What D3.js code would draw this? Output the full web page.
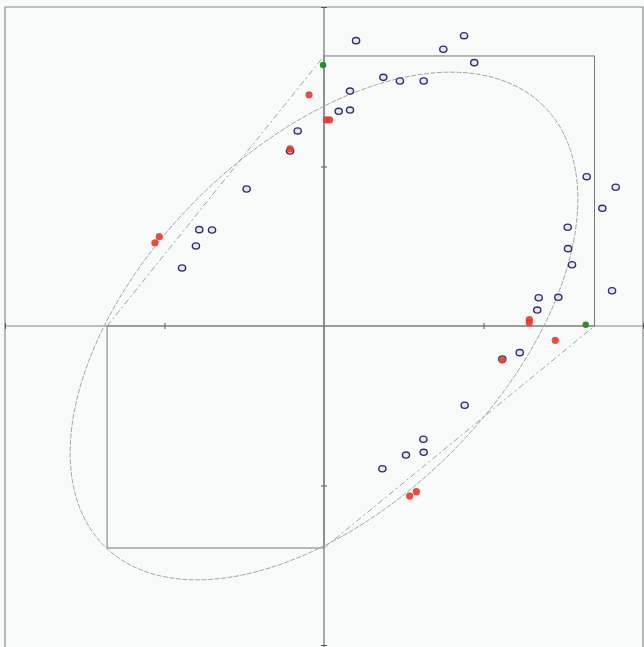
<!DOCTYPE html>
<html>
<head>
<meta charset="utf-8">
<script src="https://cdn.jsdelivr.net/npm/d3@7"></script>
<style>
  html, body { margin: 0; padding: 0; background: #f8faf9; }
  svg { display: block; }
</style>
</head>
<body>
<script>
const width = 644, height = 647;

// open (blue) points, x / y in axis units
const blueX = [0.201, 0.878, 0.748, 0.942, 0.372, 0.476, 0.625, 0.163, 0.092, 0.163,
  -0.165, -0.213, -0.485, -0.782, -0.702, -0.803, -0.890,
  1.647, 1.829, 1.745, 1.528, 1.530, 1.555, 1.806, 1.346, 1.469, 1.337,
  1.227, 1.118, 0.882, 0.623, 0.514, 0.625, 0.366];
const blueY = [1.789, 1.820, 1.735, 1.651, 1.559, 1.536, 1.536, 1.473, 1.346, 1.354,
  1.223, 1.097, 0.859, 0.604, 0.602, 0.502, 0.364,
  0.936, 0.870, 0.738, 0.619, 0.485, 0.384, 0.221, 0.177, 0.180, 0.100,
  -0.167, -0.207, -0.497, -0.710, -0.809, -0.792, -0.895];

// filled red points
const redX = [-0.094, 0.015, 0.035, -0.213, -1.033, -1.060, 1.287, 1.287, 1.450, 1.118, 0.579, 0.537];
const redY = [1.450, 1.292, 1.292, 1.110, 0.560, 0.522, 0.040, 0.020, -0.090, -0.213, -1.039, -1.066];

// filled green points
const greenX = [-0.006, 1.641];
const greenY = [1.636, 0.008];

// boxes (corner values) and the ellipse x^2 - xy + y^2 = k
const upperBox = [0, 0, 1.696, 1.693];
const lowerBox = [-1.36, -1.392, 0, 0];
const ellipseK = 1.9;
const tickVals = [-2, -1, 1, 2];

const x = d3.scaleLinear().domain([-2, 2]).range([5, 643]);
const y = d3.scaleLinear().domain([-2, 2]).range([645, 7]);

const svg = d3.select("body").append("svg")
    .attr("width", width)
    .attr("height", height);

// frame (bottom edge falls outside the scan)
svg.append("path")
    .attr("d", d3.line()([[x(-2), height], [x(-2), y(2)], [x(2), y(2)], [x(2), height]]))
    .attr("fill", "none")
    .attr("stroke", "#8a8c8c")
    .attr("stroke-width", 1.2);

// axes through the origin
svg.append("line")
    .attr("x1", x(-2)).attr("x2", width)
    .attr("y1", y(0)).attr("y2", y(0))
    .attr("stroke", "#858788").attr("stroke-width", 1);
svg.append("line")
    .attr("x1", x(0)).attr("x2", x(0))
    .attr("y1", y(2)).attr("y2", height)
    .attr("stroke", "#6f7172").attr("stroke-width", 1.2);

const xAxis = d3.axisBottom(x).tickValues(tickVals).tickSize(6).tickSizeOuter(0).tickFormat("");
const yAxis = d3.axisLeft(y).tickValues(tickVals).tickSize(6).tickSizeOuter(0).tickFormat("");
svg.append("g")
    .attr("transform", "translate(0," + (y(0) - 3) + ")")
    .call(xAxis)
    .call(g => g.select(".domain").remove())
    .selectAll("line").attr("stroke", "#555");
svg.append("g")
    .attr("transform", "translate(" + (x(0) + 3) + ",0)")
    .call(yAxis)
    .call(g => g.select(".domain").remove())
    .selectAll("line").attr("stroke", "#555");

// boxes
[upperBox, lowerBox].forEach(b => {
    svg.append("rect")
        .attr("x", x(b[0]))
        .attr("y", y(b[3]))
        .attr("width", x(b[2]) - x(b[0]))
        .attr("height", y(b[1]) - y(b[3]))
        .attr("fill", "none")
        .attr("stroke", "#767878")
        .attr("stroke-width", 1);
});

// dashed chords between box corners
const chords = [
    [[lowerBox[0], 0], [0, upperBox[3]]],
    [[0, lowerBox[1]], [upperBox[2], 0]]
];
chords.forEach(c => {
    svg.append("path")
        .attr("d", d3.line().x(d => x(d[0])).y(d => y(d[1]))(c))
        .attr("fill", "none")
        .attr("stroke", "#a0a2a2")
        .attr("stroke-width", 1)
        .attr("stroke-dasharray", "6,3,2,3");
});

// ellipse: major axis along y = x
const a = Math.sqrt(2 * ellipseK), b = Math.sqrt(2 * ellipseK / 3);
const ell = d3.range(0, 361, 2).map(t => {
    const r = t * Math.PI / 180;
    const u = a * Math.cos(r), v = b * Math.sin(r);
    return [(u - v) / Math.SQRT2, (u + v) / Math.SQRT2];
});
svg.append("path")
    .attr("d", d3.line().x(d => x(d[0])).y(d => y(d[1])).curve(d3.curveLinearClosed)(ell))
    .attr("fill", "none")
    .attr("stroke", "#a4a6a6")
    .attr("stroke-width", 1)
    .attr("stroke-dasharray", "5,1.5");

// points
svg.append("g").selectAll("ellipse")
    .data(d3.zip(blueX, blueY))
    .join("ellipse")
    .attr("cx", d => x(d[0]))
    .attr("cy", d => y(d[1]))
    .attr("rx", 3.6)
    .attr("ry", 3.1)
    .attr("fill", "#e4e7f0")
    .attr("stroke", "#2c3166")
    .attr("stroke-width", 1.4);

svg.append("g").selectAll("circle")
    .data(d3.zip(redX, redY))
    .join("circle")
    .attr("cx", d => x(d[0]))
    .attr("cy", d => y(d[1]))
    .attr("r", 3.6)
    .attr("fill", "#e8372e")
    .attr("fill-opacity", 0.9);

svg.append("g").selectAll("circle")
    .data(d3.zip(greenX, greenY))
    .join("circle")
    .attr("cx", d => x(d[0]))
    .attr("cy", d => y(d[1]))
    .attr("r", 3.2)
    .attr("fill", "#2e8b2e");
</script>
</body>
</html>
